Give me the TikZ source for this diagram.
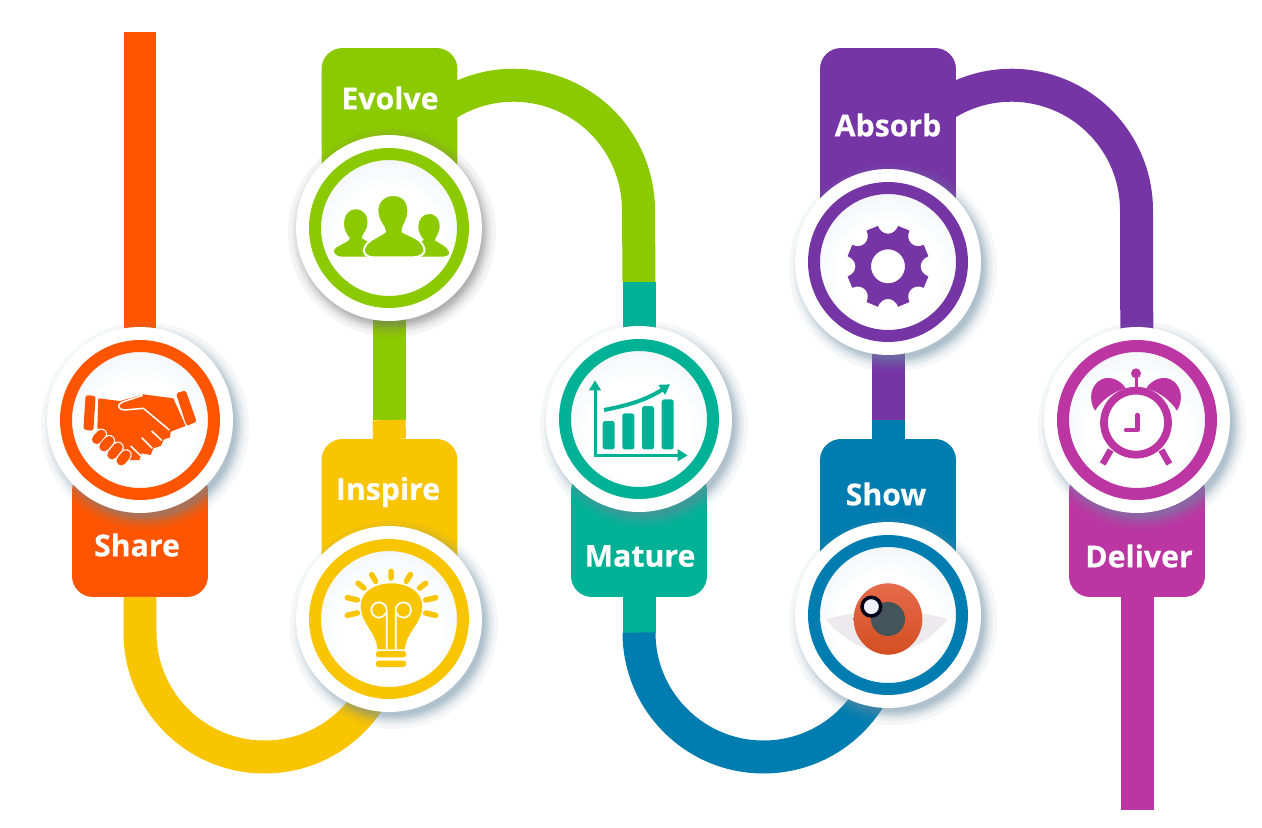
\documentclass[tikz,border=0pt]{standalone}
\usepackage{fontspec}
\setmainfont{Open Sans}[BoldFeatures={FakeBold=0.3}]
\usetikzlibrary{arrows.meta,backgrounds}

\definecolor{shareorange}{HTML}{FF5500}
\definecolor{inspireyellow}{HTML}{F9C400}
\definecolor{evolvegreen}{HTML}{8BC900}
\definecolor{maturegreen}{HTML}{00B295}
\definecolor{showblue}{HTML}{007DB0}
\definecolor{absorbpurple}{HTML}{7535A5}
\definecolor{delivermagenta}{HTML}{BC36A3}
\definecolor{hazeblue}{HTML}{6F8FA3}
\definecolor{irislight}{HTML}{E56B4A}
\definecolor{irisdark}{HTML}{D44E22}
\definecolor{pupilslate}{HTML}{43555A}
\definecolor{scleragrey}{HTML}{ECEAEC}

\pgfdeclareradialshading{discglow}{\pgfpoint{0bp}{-5bp}}{%
  rgb(0bp)=(1,1,1); rgb(17bp)=(1,1,1); rgb(30bp)=(.94,.95,.96);
  rgb(40bp)=(.78,.81,.85); rgb(60bp)=(.78,.81,.85)}

\begin{document}
\begin{tikzpicture}[
    x=0.02cm, y=-0.02cm,
    strip/.style={line width=0.66cm},
    tag/.style={rectangle, minimum width=2.72cm, rounded corners=0.42cm, inner sep=0pt, outer sep=0pt},
    haze/.style={opacity=0.08},
    disc/.style={circle, fill=white, minimum size=3.72cm, inner sep=0pt, outer sep=0pt},
    ring/.style={circle, minimum size=2.96cm, line width=0.24cm, inner sep=0pt, shade, shading=discglow},
    caption/.style={text=white, inner sep=0pt, font=\fontsize{17.2}{20}\selectfont\bfseries},
    icon/.style={scale=1/3, shift={(-300,-300)}},
    >={Triangle[length=0.2cm,width=0.23cm]}
]
    \useasboundingbox (0,0) rectangle (1262,828);

    % Tags
    \begin{scope}[on background layer]
    \node[tag, fill=shareorange, minimum height=2.54cm] (tag1) at (140,533.5) {};
    \node[tag, fill=inspireyellow, minimum height=3.02cm] (tag2) at (389.5,514.5) {};
    \node[tag, fill=evolvegreen, minimum height=3.04cm] (tag3) at (389.5,124) {};
    \node[tag, fill=maturegreen, minimum height=2.54cm] (tag4) at (639,533.5) {};
    \node[tag, fill=showblue, minimum height=3.02cm] (tag5) at (888,514.5) {};
    \node[tag, fill=absorbpurple, minimum height=3.64cm] (tag6) at (888,139) {};
    \node[tag, fill=delivermagenta, minimum height=2.54cm] (tag7) at (1137,533.5) {};
    \end{scope}

    % Shadows
    \foreach \hx/\hy/\tone in {145/426/hazeblue, 394/625/hazeblue, 392/233/black!55, 644/425/hazeblue,
        893/621/hazeblue, 893/268/hazeblue, 1142/426/hazeblue} {
        \foreach \hr in {104,100,98,96,95,94,93,92,91,90} {
            \fill[\tone, haze] (\hx,\hy) circle[radius=\hr];
        }
    }

    % Discs
    \node[disc] (disc1) at (140,420) {};
    \node[disc] (disc2) at (389,619) {};
    \node[disc] (disc3) at (389,228) {};
    \node[disc] (disc4) at (639,419) {};
    \node[disc] (disc5) at (888,615) {};
    \node[disc] (disc6) at (888,262) {};
    \node[disc] (disc7) at (1137,420) {};

    \node[ring, draw=shareorange] (ring1) at (disc1) {};
    \node[ring, draw=inspireyellow] (ring2) at (disc2) {};
    \node[ring, draw=evolvegreen] (ring3) at (disc3) {};
    \node[ring, draw=maturegreen] (ring4) at (disc4) {};
    \node[ring, draw=showblue] (ring5) at (disc5) {};
    \node[ring, draw=absorbpurple] (ring6) at (disc6) {};
    \node[ring, draw=delivermagenta] (ring7) at (disc7) {};

    % Joints
    \coordinate (start1) at (140,32);
    \coordinate (bend1) at (140,632.5);
    \coordinate (joint2) at (389,420);
    \coordinate (bend3) at (451,102);
    \coordinate (joint3) at (639,282);
    \coordinate (bend4) at (639,632.5);
    \coordinate (joint5) at (888,420);
    \coordinate (bend6) at (949,102);
    \coordinate (end7) at (1137,810);

    % Strips
    \begin{scope}[on background layer]
    \draw[strip, draw=shareorange] (start1) -- (disc1.center);
    \draw[strip, draw=inspireyellow] (tag1.south) -- (bend1) arc[start angle=180, end angle=0, radius=124.5] -- (disc2.center);
    \draw[strip, draw=evolvegreen] (disc3.center) -- (joint2);
    \draw[strip, draw=inspireyellow] (joint2) -- (tag2.north);
    \draw[strip, draw=evolvegreen] (tag3.center) -- (bend3) arc[start angle=-120, end angle=0, radius=125] -- (joint3);
    \draw[strip, draw=maturegreen] (joint3) -- (disc4.center);
    \draw[strip, draw=maturegreen] (tag4.south) -- (bend4);
    \draw[strip, draw=showblue] (bend4) arc[start angle=180, end angle=0, radius=124.5] -- (disc5.center);
    \draw[strip, draw=absorbpurple] (disc6.center) -- (joint5);
    \draw[strip, draw=showblue] (joint5) -- (tag5.north);
    \draw[strip, draw=absorbpurple] (tag6.center) -- (bend6) arc[start angle=-120, end angle=0, radius=125] -- (disc7.center);
    \draw[strip, draw=delivermagenta] (tag7.south) -- (end7);
    \end{scope}

    % Captions
    \node[caption] (label1) at (137,545) {Share};
    \node[caption] (label2) at (388,492) {Inspire};
    \node[caption] (label3) at (390,98) {Evolve};
    \node[caption] (label4) at (640,556) {Mature};
    \node[caption] (label5) at (886,494) {Show};
    \node[caption] (label6) at (888,125) {Absorb};
    \node[caption] (label7) at (1139,556) {Deliver};

    % Handshake
    \begin{scope}[shift={(disc1.center)}, icon]
    \fill[shareorange, rounded corners=0.05cm] (137,225) -- (167,228) -- (160,333) -- (130,328) -- cycle;
    \fill[shareorange, rounded corners=0.05cm] (408,220) -- (437,211) -- (470,305) -- (440,318) -- cycle;
    \fill[shareorange] (175,235) -- (240,243) -- (310,223) -- (400,235) -- (437,318) -- (392,335)
        -- (390,352) -- (372,358) -- (362,378) -- (340,385) -- (332,405) -- (305,400) -- (298,420) -- (262,420) -- (215,385) -- (172,322) -- cycle;
    \draw[white, line width=0.03cm, line join=round] (388,330) -- (310,265) -- (255,270) .. controls (232,268) and (228,255) .. (250,245) -- (308,226);
    \draw[white, line width=0.03cm] (335,333) -- (366,362) (305,353) -- (337,385) (272,378) -- (302,407);
    \foreach \fx/\fy/\gx/\gy in {184/343/170/358, 208/362/192/380, 234/382/216/404, 258/405/244/422} {
        \draw[white, line width=0.23cm, line cap=round] (\fx,\fy) -- (\gx,\gy);
        \draw[shareorange, line width=0.19cm, line cap=round] (\fx,\fy) -- (\gx,\gy);
    }
    \end{scope}

    % Lightbulb
    \begin{scope}[shift={(disc2.center)}, icon, shift={(8,3)}]
    \draw[inspireyellow, line width=0.11cm, line cap=round] (298,154) -- (298,174)
        (240,164) -- (252,184) (199,190) -- (217,204) (167,233) -- (197,240) (167,286) -- (197,279)
        (356,164) -- (344,184) (402,190) -- (384,204) (432,233) -- (402,240) (432,286) -- (402,279);
    \fill[inspireyellow] (257,388) .. controls (257,340) and (207,310) .. (207,258) .. controls (207,215) and (250,190) .. (300,190)
        .. controls (347,190) and (392,215) .. (392,258) .. controls (392,310) and (340,340) .. (340,388) -- cycle;
    \draw[white, line width=0.035cm] (285,388) -- (285,270) arc[start angle=0, end angle=-340, radius=23];
    \draw[white, line width=0.035cm] (312,388) -- (312,270) arc[start angle=180, end angle=520, radius=23];
    \fill[inspireyellow, rounded corners=0.05cm] (253,393) rectangle (343,412) (253,422) rectangle (343,441);
    \end{scope}

    % People
    \begin{scope}[shift={(disc3.center)}, icon, shift={(3,6)}]
    \fill[evolvegreen] (197,238) .. controls (222,238) and (234,258) .. (232,282) .. controls (230,305) and (215,312) .. (215,325)
        .. controls (235,335) and (260,350) .. (265,380) -- (160,380) .. controls (135,380) and (122,365) .. (140,352)
        .. controls (155,342) and (178,335) .. (180,325) .. controls (170,312) and (162,300) .. (162,280) .. controls (162,258) and (175,238) .. (197,238) -- cycle;
    \fill[evolvegreen] (418,252) .. controls (440,252) and (450,272) .. (449,292) .. controls (447,312) and (435,322) .. (435,332)
        .. controls (450,340) and (470,350) .. (477,365) .. controls (480,375) and (470,380) .. (455,380) -- (350,380)
        .. controls (360,350) and (385,340) .. (402,330) .. controls (392,318) and (385,305) .. (385,290) .. controls (385,270) and (397,252) .. (418,252) -- cycle;
    \fill[evolvegreen, draw=white, line width=0.04cm] (310,195) .. controls (340,195) and (356,215) .. (355,245) .. controls (354,275) and (335,290) .. (338,305)
        .. controls (360,318) and (395,325) .. (403,355) .. controls (408,372) and (390,382) .. (370,382) -- (250,382)
        .. controls (228,382) and (215,368) .. (225,350) .. controls (235,328) and (270,318) .. (285,305) .. controls (285,290) and (262,275) .. (262,240)
        .. controls (262,215) and (282,195) .. (310,195) -- cycle;
    \end{scope}

    % Chart
    \begin{scope}[shift={(disc4.center)}, icon, shift={(3,-2)}]
    \draw[<->, maturegreen, line width=0.06cm] (165,186) -- (165,411) -- (443,411);
    \fill[maturegreen, rounded corners=0.05cm] (188,308) rectangle (224,393) (247,285) rectangle (283,393)
        (306,263) rectangle (342,393) (365,243) rectangle (401,393);
    \draw[->, maturegreen, line width=0.08cm] (192,275) .. controls (260,262) and (320,245) .. (390,198);
    \end{scope}

    % Eye
    \begin{scope}[shift={(disc5.center)}, icon, shift={(7,0)}]
    \fill[white] (88,312) .. controls (160,295) and (220,285) .. (293,285) .. controls (370,285) and (430,295) .. (495,312)
        .. controls (430,395) and (360,440) .. (293,440) .. controls (225,440) and (150,395) .. (88,312) -- cycle;
    \fill[scleragrey] (105,312) .. controls (165,298) and (225,288) .. (293,288) .. controls (365,288) and (420,298) .. (473,312)
        .. controls (420,375) and (360,412) .. (293,412) .. controls (225,412) and (160,375) .. (105,312) -- cycle;
    \shade[top color=irislight, bottom color=irisdark] (293,312) ellipse[x radius=103, y radius=107];
    \fill[pupilslate] (293,312) circle[radius=51];
    \fill[blue!5, draw=black!90!blue, line width=0.07cm] (243,275) circle[radius=28];
    \end{scope}

    % Gear
    \begin{scope}[shift={(disc6.center)}, icon, shift={(300,313)}]
    \fill[absorbpurple, even odd rule] (14:125)
        foreach \a in {0,45,...,315} {
            -- (\a+14:125) -- (\a+31:125)
            .. controls (\a+33:92) and (\a+57:92) .. (\a+59:125)
        } -- cycle (0,0) circle[radius=51];
    \end{scope}

    % Clock
    \begin{scope}[shift={(disc7.center)}, icon, shift={(9,0)}]
    \draw[delivermagenta, line width=0.155cm] (288,308) circle[radius=96];
    \fill[delivermagenta] (165,272) .. controls (145,240) and (150,195) .. (185,178) .. controls (215,165) and (245,185) .. (257,205)
        .. controls (220,215) and (185,240) .. (165,272) -- cycle;
    \fill[delivermagenta] (411,272) .. controls (431,240) and (426,195) .. (391,178) .. controls (361,165) and (331,185) .. (319,205)
        .. controls (356,215) and (391,240) .. (411,272) -- cycle;
    \fill[delivermagenta] (288,160) circle[radius=15];
    \draw[delivermagenta, line width=0.06cm] (288,165) -- (288,212);
    \draw[delivermagenta, line width=0.13cm] (212,390) -- (188,432) (364,390) -- (388,432);
    \draw[delivermagenta, line width=0.09cm, line cap=round, line join=round] (292,285) -- (292,330) -- (258,330);
    \end{scope}
\end{tikzpicture}
\end{document}
